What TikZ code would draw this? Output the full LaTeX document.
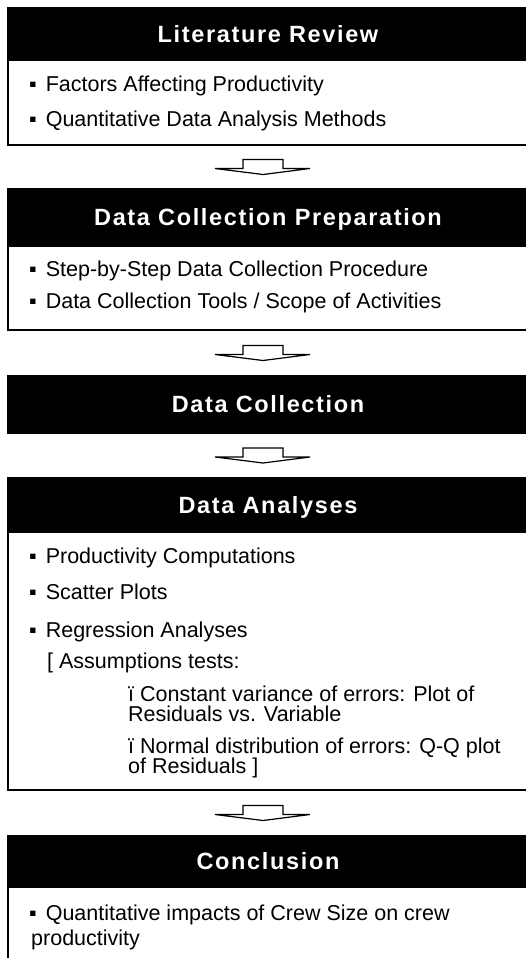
\documentclass[tikz,border=0pt]{standalone}
\usepackage{fontspec}
\setmainfont{Liberation Sans}
\newfontfamily\titlefont[LetterSpace=7]{Liberation Sans}
\usetikzlibrary{calc}
\newcommand\flowarr[1]{\draw[flowarrow] ($(#1)+(-20,-9)$) -- ($(#1)+(-20,0)$) -- ($(#1)+(-48,0)$) -- ($(#1)+(0,6)$) -- ($(#1)+(47,0)$) -- ($(#1)+(20,0)$) -- ($(#1)+(20,-9)$) -- cycle;}
\newcommand\bul{▪\hspace{3pt} }
\begin{document}
\begin{tikzpicture}[x=1pt,y=-1pt,
  barbox/.style={fill=black,draw=black,line width=1pt,inner sep=0pt,outer sep=0pt,anchor=north west,minimum width=522pt},
  bodybox/.style={fill=white,draw=black,line width=1.5pt,inner sep=0pt,outer sep=0pt,anchor=north west,minimum width=521pt},
  titletext/.style={text=white,font=\titlefont\bfseries\fontsize{23.5}{26}\selectfont,anchor=base,inner sep=0pt},
  itemtext/.style={font=\fontsize{21.5}{19.5}\selectfont,anchor=base west,inner sep=0pt},
  flowarrow/.style={draw=black,fill=white,line width=1.2pt,line join=miter}
]
\clip (0,0) rectangle (526,958);
\fill[white] (0,0) rectangle (526,958);
\coordinate (axis) at (263,0);

% Box 1
\node[barbox,minimum height=52pt] (bar1) at (7,8) {};
\node[bodybox,minimum height=85pt] (body1) at (8,60) {};
\node[titletext] (t1) at ($(bar1.center)+(0,8.5)$) {Literature Review};
\node[itemtext] (i11) at (29,92) {\bul Factors Affecting Productivity};
\node[itemtext] (i12) at (29,126) {\bul Quantitative Data Analysis Methods};

% Box 2
\node[barbox,minimum height=58pt] (bar2) at (7,188) {};
\node[bodybox,minimum height=84pt] (body2) at (8,246) {};
\node[titletext] (t2) at ($(bar2.center)+(0,8.5)$) {Data Collection Preparation};
\node[itemtext] (i21) at (29,276) {\bul Step-by-Step Data Collection Procedure};
\node[itemtext] (i22) at (29,308) {\bul Data Collection Tools / Scope of Activities};

% Box 3
\node[barbox,minimum height=58pt] (bar3) at (7,375) {};
\node[titletext] (t3) at ($(bar3.center)+(0,8.5)$) {Data Collection};

% Box 4
\node[barbox,minimum height=55pt] (bar4) at (7,477) {};
\node[bodybox,minimum height=258pt] (body4) at (8,532) {};
\node[titletext] (t4) at ($(bar4.center)+(0,8.5)$) {Data Analyses};
\node[itemtext] (i41) at (29,563) {\bul Productivity Computations};
\node[itemtext] (i42) at (29,599) {\bul Scatter Plots};
\node[itemtext] (i43) at (29,637) {\bul Regression Analyses};
\node[itemtext] (i44) at (47,668) {[ Assumptions tests:};
\node[itemtext] (i45) at (128,701) {ï Constant variance of errors: Plot of};
\node[itemtext] (i46) at (128,721) {Residuals vs. Variable};
\node[itemtext] (i47) at (128,753) {ï Normal distribution of errors: Q-Q plot};
\node[itemtext] (i48) at (128,773) {of Residuals ]};

% Box 5
\node[barbox,minimum height=52pt] (bar5) at (7,835) {};
\node[bodybox,minimum height=90pt] (body5) at (8,887) {};
\node[titletext] (t5) at ($(bar5.center)+(0,8.5)$) {Conclusion};
\node[itemtext] (i51) at (29,920) {\bul Quantitative impacts of Crew Size on crew};
\node[itemtext] (i52) at (31,945) {productivity};

% connectors
\coordinate (g1) at ($(body1.south)!0.5!(bar2.north)$);
\coordinate (g2) at ($(body2.south)!0.5!(bar3.north)$);
\coordinate (g3) at ($(bar3.south)!0.5!(bar4.north)$);
\coordinate (g4) at ($(body4.south)!0.5!(bar5.north)$);
\coordinate (a1) at ($(axis |- g1)+(0,2)$);
\coordinate (a2) at ($(axis |- g2)+(0,2)$);
\coordinate (a3) at ($(axis |- g3)+(0,2)$);
\coordinate (a4) at ($(axis |- g4)+(0,2)$);
\flowarr{a1}
\flowarr{a2}
\flowarr{a3}
\flowarr{a4}
\end{tikzpicture}
\end{document}
